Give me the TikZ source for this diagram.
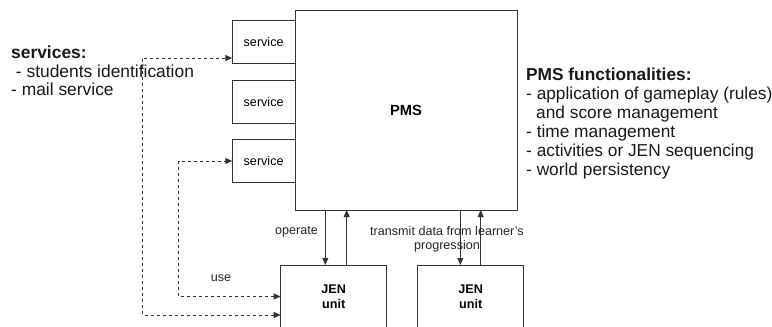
\documentclass[tikz,border=0pt]{standalone}
\usepackage{fontspec}
\setmainfont{Liberation Sans}
\usetikzlibrary{arrows.meta}

\tikzset{
  box/.style={draw=black!80, line width=0.9pt, inner sep=0pt, outer sep=0pt},
  srvbox/.style={box, minimum width=62.7pt, minimum height=43pt,
    font=\fontsize{12.6}{14.5}\selectfont},
  jenbox/.style={box, minimum width=106pt, minimum height=63pt, align=center,
    font=\bfseries\fontsize{12.6}{15}\selectfont},
  flow/.style={draw=black!80, line width=0.9pt, -{Triangle[length=7pt,width=6pt]}},
  uses/.style={flow, dash pattern=on 3pt off 3pt,
    {Triangle[length=7pt,width=6pt]}-{Triangle[length=7pt,width=6pt]}},
  small/.style={font=\fontsize{12.6}{14.5}\selectfont, inner sep=0pt, text=black!85},
  big/.style={align=left, inner sep=0pt, text=black!90}
}

\begin{document}
\begin{tikzpicture}[x=1pt,y=-1pt]
  \useasboundingbox (0,0) rectangle (772,327);
  % platform and its services
  \node[box, minimum width=222pt, minimum height=200pt,
    font=\bfseries\fontsize{14.7}{17}\selectfont] (pms) at (406,110) {PMS};
  \node[srvbox] (srv1) at (263.65,41.8) {service};
  \node[srvbox] (srv2) at (263.65,101.5) {service};
  \node[srvbox] (srv3) at (263.65,161) {service};
  % JEN units
  \node[jenbox] (jen1) at (333.7,296.5) {JEN\\unit};
  \node[jenbox] (jen2) at (470.7,296.5) {JEN\\unit};
  % exchanges with the platform
  \draw[flow] ([xshift=-8.4pt]jen1.north |- pms.south) -- ([xshift=-8.4pt]jen1.north);
  \draw[flow] ([xshift=13pt]jen1.north) -- ([xshift=13pt]jen1.north |- pms.south);
  \draw[flow] ([xshift=-10.4pt]jen2.north |- pms.south) -- ([xshift=-10.4pt]jen2.north);
  \draw[flow] ([xshift=10pt]jen2.north) -- ([xshift=10pt]jen2.north |- pms.south);
  \node[small] (op) at (296.5,232) {operate};
  \node[small, align=center] (tx) at (447,239) {transmit data from learner's\\progression};
  % use of the services
  \draw[uses] ([yshift=-18.5pt]jen1.west) -- ++(-138,0) |- ([yshift=-16.2pt]srv1.west);
  \draw[uses] (jen1.west) -- ++(-102,0) |- (srv3.west);
  \node[small] (use) at (221,278) {use};
  % lists
  \node[big, font=\fontsize{17.4}{18.5}\selectfont, anchor=base west] (svcs) at (11,95.5)
    {\textbf{services:}\\\hspace{4.8pt}- students identification\\- mail service};
  \node[big, font=\fontsize{17.3}{19}\selectfont, anchor=base west] (func) at (526,175.5)
    {\textbf{PMS functionalities:}\\- application of gameplay (rules)\\
     \hspace{10pt}and score management\\- time management\\
     - activities or JEN sequencing\\- world persistency};
\end{tikzpicture}
\end{document}
